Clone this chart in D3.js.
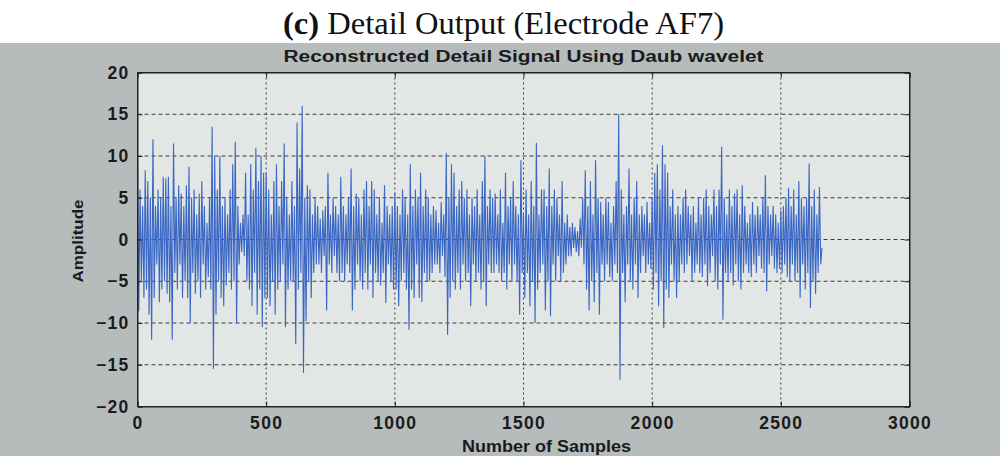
<!DOCTYPE html>
<html>
<head>
<meta charset="utf-8">
<script src="https://cdn.jsdelivr.net/npm/d3@7"></script>
<style>
  body { margin: 0; background: #fff; }
  svg { display: block; }
  .tick text { font-family: "Liberation Sans", Arial, sans-serif; font-weight: bold; font-size: 17.5px; letter-spacing: 1.3px; fill: #1a1a1a; }
</style>
</head>
<body>
<svg id="chart"></svg>
<script>

var width = 1000,
    height = 456;

var margin = {top: 72.5, right: 90.5, bottom: 49.5, left: 137.5};

// x ticks / y ticks
var xTicks = [0, 500, 1000, 1500, 2000, 2500, 3000];
var yTicks = [-20, -15, -10, -5, 0, 5, 10, 15, 20];

// signal turning points, every 5 samples (one row = 100 samples)
var sampleStep = 5;
var detail = [
  9.5, -8.6, 6, -5, 4, -7, 8.3, -6, 7, -9, 5, -12, 12, -7, 4, -3, 6, -7.5, 5, -6,
  7.5, -5, 7.3, -6.5, 7.5, -7.5, 4, -12, 11.5, -4, 5, -6, 6.5, -3, 5.5, -7, 4, -5, 6.5, -7,
  8.7, -10, 5, -4, 6, -6.5, 3, -5, 5.5, -7, 7, -3, 4, -6, 2, -4.5, 5, -6, 13.5, -15.5,
  10, -9, 6, -5, 10, -7, 4, -8, 5, -5.5, 3, -4, 6, -6, 9, -5, 11.7, -10, 4, -3,
  2, -1.5, 3, -2, 8, -5, 3, -6, 9, -8, 6, -4, 11, -9, 7, -6, 10, -10.5, 8, -7,
  8, -7, 6, -8, 3, -5, 7, -9, 9, -6, 4, -5, 7, -3, 11.5, -10.5, 5, -6, 3, -5,
  7, -5, 4, -12.5, 14, -6, 8.5, -4, 16, -16, 5, -9.8, 6.5, -5, 6, -7, 3, -4, 5, -3,
  4, -3, 2.5, -4, 3.5, -2, 4, -8.5, 8, -3, 3, -4, 5, -2, 4, -4, 3, -5, 7.5, -4,
  4, -5, 3, -3, 5, -4, 8.5, -8.5, 4, -6, 5.5, -3, 5, -5, 3, -6, 6, -4, 7, -6,
  4, -3, 7, -7, 6, -4, 3, -5, 5, -5.5, 2, -4, 6.5, -7.6, 4, -3, 3, -5, 4, -6,
  5.6, -6, 4, -8, 3, -5, 6, -4, 5, -6, 3, -10.8, 9, -6, 4, -7, 6, -3, 5, -7,
  8, -7.5, 4, -4, 6, -5, 5, -5, 3, -4, 4, -3, 3.5, -3, 2, -4, 4.5, -2, 3, -4.5,
  10.4, -11.4, 5, -7, 9, -5, 8, -6, 4, -4, 6, -6, 7, -3, 5, -5, 6, -4, 3, -8,
  5, -3, 4, -5, 6, -4, 3, -6, 7, -5, 10, -8, 4, -3, 6, -4, 5, -4, 5.5, -3,
  3, -4, 6, -5, 2, -4, 8, -6, 4, -3, 5, -5, 7, -3, 4, -5, 3, -9, 9.5, -4,
  3, -7, 6, -4, 3, -8, 7, -5, 4, -10, 11.6, -6, 3, -4, 6, -3, 6, -8.5, 4, -5,
  8.5, -9.2, 4, -3, 6, -5, 5, -2, 3, -5, 7, -4, 2, -3, 3, -2, 1.5, -2, 2, -1,
  1.5, -1.5, 1, -2, 2.5, -1, 5, -3, 8.3, -6, 4, -8.5, 7, -5, 3, -7.5, 9.5, -4, 5, -9,
  4.5, -3, 3, -5, 5, -3, 4.5, -4.5, 2, -5, 4, -3, 7, -4, 15, -16.8, 6, -4, 3, -7.5,
  4, -3, 8.5, -5, 3, -6, 5, -3, 7, -7, 3, -4, 4, -2, 3, -4, 4.5, -3, 2, -3.5,
  5, -6, 8, -4, 9, -8, 6, -5, 11.3, -10.6, 9, -6, 8, -7, 4, -3, 6, -5, 3, -7,
  4, -5, 3, -3, 5, -4, 6, -3, 4, -2, 3, -5, 4, -4, 2, -3, 5, -4, 3, -4.5,
  5, -3, 6, -5.6, 4, -4, 3, -2, 6, -5, 4, -6, 6, -3, 11.1, -9.6, 5, -4, 3, -5,
  6, -4, 4, -5.5, 5.5, -3, 6, -5, 3, -6, 6.5, -4, 4, -3, 2, -4, 3, -4.5, 4.5, -3,
  3, -4, 4, -2, 3, -3.5, 5, -4, 7.7, -6.2, 4, -3, 3, -2, 4, -3.5, 3, -4, 2, -3.5,
  3.5, -4, 4, -3, 5, -4.5, 6.2, -5, 4, -3, 6, -5, 3, -4, 7, -7, 5, -3, 4, -6,
  5, -4, 9.1, -8.2, 4, -5, 6, -6.5, 3, -4, 6.3, -3, -1
];

var svg = d3.select("#chart")
    .attr("width", width)
    .attr("height", height);

// figure background (grey MATLAB window), white strip on top
svg.append("rect")
    .attr("x", 0).attr("y", 43)
    .attr("width", width).attr("height", height - 43)
    .attr("fill", "#b6bcbb");

svg.append("text")
    .attr("x", 503.5).attr("y", 34)
    .attr("text-anchor", "middle")
    .attr("textLength", 441)
    .attr("lengthAdjust", "spacingAndGlyphs")
    .style("font-family", "'Liberation Serif', 'Times New Roman', serif")
    .style("font-size", "31px")
    .attr("fill", "#111")
    .html('<tspan font-weight="bold">(c)</tspan> Detail Output (Electrode AF7)');

var plotW = width - margin.left - margin.right,
    plotH = height - margin.top - margin.bottom;

var x = d3.scaleLinear().domain([0, 3000]).range([0, plotW]);
var y = d3.scaleLinear().domain([-20, 20]).range([plotH, 0]);

var g = svg.append("g")
    .attr("transform", "translate(" + margin.left + "," + margin.top + ")");

g.append("rect")
    .attr("width", plotW).attr("height", plotH)
    .attr("fill", "#e2e7e5");

// grid
g.selectAll(".hgrid").data(yTicks.slice(1, -1)).enter().append("line")
    .attr("class", "hgrid")
    .attr("x1", 0).attr("x2", plotW)
    .attr("y1", function(d) { return y(d); })
    .attr("y2", function(d) { return y(d); })
    .attr("stroke", "#3a3a3a").attr("stroke-width", 1)
    .attr("stroke-dasharray", "4,3");

g.selectAll(".vgrid").data(xTicks.slice(1, -1)).enter().append("line")
    .attr("class", "vgrid")
    .attr("y1", 0).attr("y2", plotH)
    .attr("x1", function(d) { return x(d); })
    .attr("x2", function(d) { return x(d); })
    .attr("stroke", "#3a3a3a").attr("stroke-width", 1)
    .attr("stroke-dasharray", "2,3");

// signal
var line = d3.line()
    .x(function(d, i) { return x(i * sampleStep); })
    .y(function(d) { return y(d); });

g.append("path")
    .datum(detail)
    .attr("d", line)
    .attr("fill", "none")
    .attr("stroke", "#3a66c4")
    .attr("stroke-width", 1.1)
    .attr("stroke-linejoin", "miter");

// axes
g.append("g")
    .attr("transform", "translate(0," + plotH + ")")
    .call(d3.axisBottom(x).tickValues(xTicks).tickSize(-5).tickPadding(10).tickFormat(d3.format("d")));

g.append("g")
    .call(d3.axisLeft(y).tickValues(yTicks).tickSize(-5).tickPadding(8).tickFormat(d3.format("d")));

g.append("g")
    .attr("transform", "translate(" + plotW + ",0)")
    .call(d3.axisRight(y).tickValues(yTicks).tickSize(-5).tickFormat(""));

g.append("g")
    .call(d3.axisTop(x).tickValues(xTicks).tickSize(-5).tickFormat(""));

g.selectAll(".domain").attr("stroke", "#222");
g.selectAll(".tick line").attr("stroke", "#222");

// box
g.append("rect")
    .attr("width", plotW).attr("height", plotH)
    .attr("fill", "none").attr("stroke", "#222").attr("stroke-width", 1);

// labels
svg.append("text")
    .attr("x", margin.left + plotW / 2).attr("y", 62)
    .attr("text-anchor", "middle")
    .attr("textLength", 480)
    .attr("lengthAdjust", "spacingAndGlyphs")
    .style("font-family", "'Liberation Sans', Arial, sans-serif")
    .style("font-weight", "bold").style("font-size", "16px")
    .attr("fill", "#1a1a1a")
    .text("Reconstructed Detail Signal Using Daub wavelet");

svg.append("text")
    .attr("x", 546.5).attr("y", 452)
    .attr("text-anchor", "middle")
    .attr("textLength", 169)
    .attr("lengthAdjust", "spacingAndGlyphs")
    .style("font-family", "'Liberation Sans', Arial, sans-serif")
    .style("font-weight", "bold").style("font-size", "16px")
    .attr("fill", "#1a1a1a")
    .text("Number of Samples");

svg.append("text")
    .attr("transform", "translate(83,241) rotate(-90)")
    .attr("text-anchor", "middle")
    .attr("textLength", 83)
    .attr("lengthAdjust", "spacingAndGlyphs")
    .style("font-family", "'Liberation Sans', Arial, sans-serif")
    .style("font-weight", "bold").style("font-size", "15px")
    .attr("fill", "#1a1a1a")
    .text("Amplitude");

</script>
</body>
</html>
